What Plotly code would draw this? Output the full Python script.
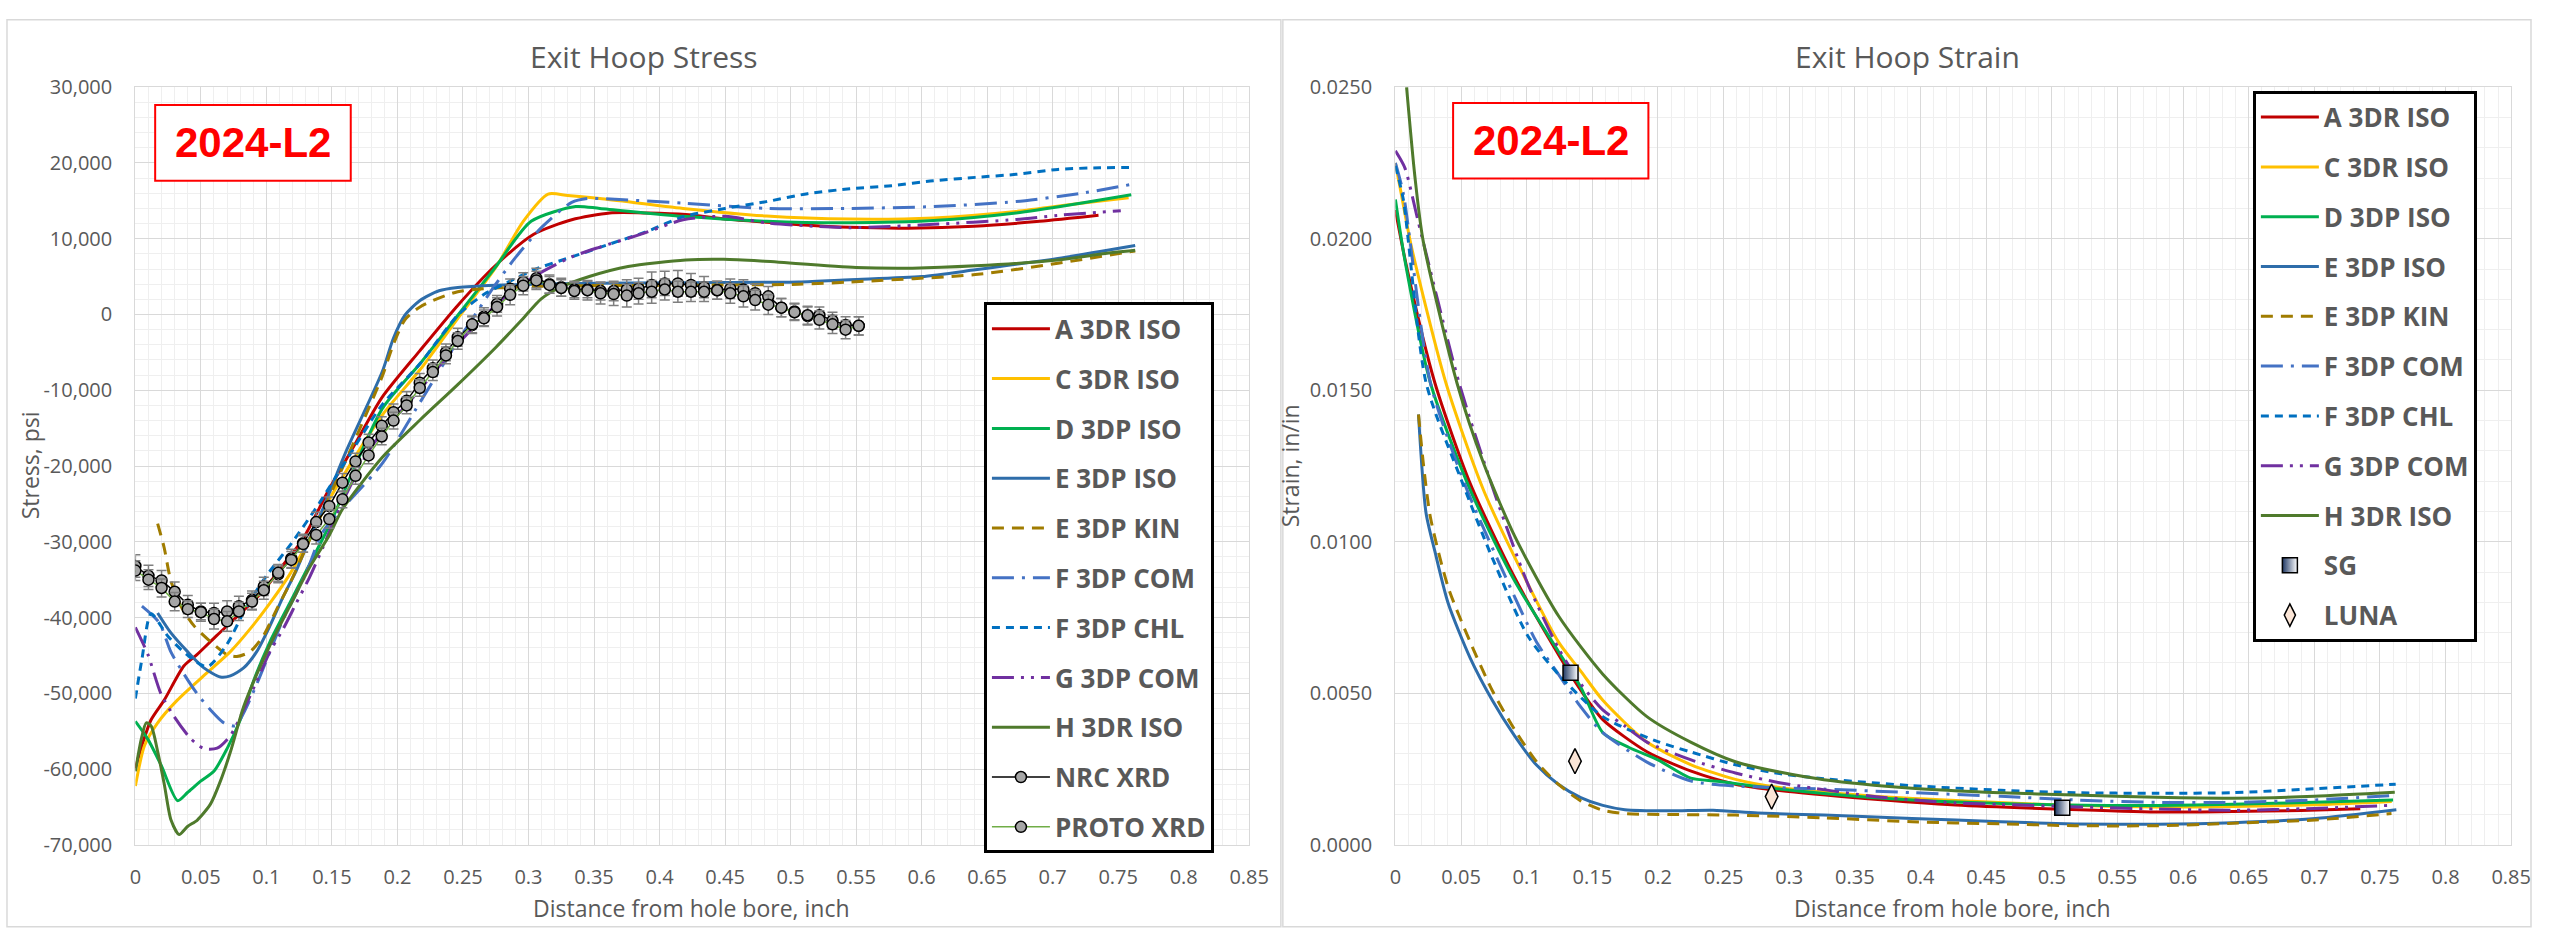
import plotly.graph_objects as go

W, H = 2552, 935

# ---------------- Exit hoop stress (psi) vs distance from bore (inch) ----------------
stress_A_x = [0, 0.005, 0.012, 0.022, 0.037, 0.047, 0.062, 0.083, 0.098, 0.113, 0.128, 0.148, 0.168, 0.188, 0.217, 0.246, 0.275, 0.304, 0.333, 0.362, 0.391, 0.42, 0.45, 0.48, 0.51, 0.545, 0.59, 0.64, 0.69, 0.735]
stress_A_y = [-59900, -56900, -53500, -50900, -46400, -44900, -42400, -39000, -36400, -33000, -29600, -23000, -17000, -11000, -4800, 1200, 6500, 10600, 12500, 13400, 13400, 13200, 12600, 12200, 11800, 11500, 11400, 11650, 12300, 13100]

stress_C_x = [0, 0.007, 0.017, 0.032, 0.052, 0.0725, 0.0876, 0.1027, 0.1178, 0.1329, 0.148, 0.1883, 0.2172, 0.2461, 0.275, 0.296, 0.315, 0.33, 0.3545, 0.418, 0.4817, 0.5453, 0.609, 0.672, 0.72, 0.758]
stress_C_y = [-62250, -56900, -53900, -50900, -47700, -44500, -41500, -38100, -34300, -29600, -24400, -13300, -7300, -500, 6200, 12300, 15900, 15700, 15300, 14000, 13000, 12600, 12750, 13600, 14650, 15400]

stress_D_x = [0, 0.0095, 0.0196, 0.0322, 0.0398, 0.0498, 0.0599, 0.07, 0.0801, 0.0901, 0.1027, 0.1178, 0.1329, 0.148, 0.1883, 0.2172, 0.2461, 0.275, 0.302, 0.336, 0.3545, 0.418, 0.4817, 0.5453, 0.609, 0.672, 0.72, 0.76]
stress_D_y = [-53700, -56050, -59470, -64170, -63100, -61600, -60300, -57300, -53500, -48400, -43200, -38100, -33000, -27850, -12465, -6500, -100, 6300, 12300, 14250, 14000, 12960, 12300, 12100, 12400, 13400, 14650, 15800]

stress_EI_x = [0.017, 0.027, 0.0398, 0.0523, 0.0649, 0.0725, 0.0826, 0.0926, 0.1027, 0.1128, 0.1228, 0.1329, 0.143, 0.16, 0.1883, 0.197, 0.2057, 0.2172, 0.2317, 0.246, 0.275, 0.333, 0.42, 0.506, 0.5453, 0.6, 0.641, 0.704, 0.763]
stress_EI_y = [-39400, -42000, -44500, -46650, -47850, -47700, -46650, -44500, -41100, -37250, -33800, -29600, -25700, -18400, -7600, -3100, -100, 1850, 3130, 3560, 3860, 4100, 4200, 4300, 4600, 5000, 5900, 7400, 9100]

stress_EK_x = [0.017, 0.022, 0.027, 0.0347, 0.0448, 0.0574, 0.07, 0.0775, 0.0876, 0.0977, 0.1077, 0.1178, 0.1279, 0.138, 0.16, 0.1883, 0.197, 0.2057, 0.2172, 0.246, 0.304, 0.42, 0.506, 0.5453, 0.641, 0.704, 0.763]
stress_EK_y = [-27600, -30800, -35100, -38500, -41100, -43200, -44900, -45150, -44500, -42400, -38960, -35540, -31700, -27850, -19500, -8200, -3900, -700, 1000, 3000, 3700, 3860, 3990, 4290, 5270, 6760, 8390]

stress_FM_x = [0.005, 0.0183, 0.027, 0.0372, 0.0473, 0.0574, 0.0675, 0.0763, 0.0826, 0.0926, 0.1027, 0.1128, 0.1228, 0.1329, 0.143, 0.1883, 0.2172, 0.246, 0.275, 0.29, 0.31, 0.333, 0.345, 0.3545, 0.418, 0.4817, 0.5453, 0.609, 0.672, 0.72, 0.761]
stress_FM_y = [-38500, -40700, -44500, -47500, -50100, -52200, -53900, -54300, -52600, -48800, -44500, -40200, -36800, -33000, -28700, -19700, -11600, -3500, 4000, 7500, 11500, 14800, 15300, 15300, 14700, 14000, 14000, 14250, 14900, 15950, 17200]

stress_FC_x = [0, 0.005, 0.012, 0.025, 0.04, 0.055, 0.07, 0.085, 0.1, 0.12, 0.14, 0.16, 0.188, 0.2172, 0.246, 0.2664, 0.2837, 0.304, 0.333, 0.362, 0.391, 0.418, 0.45, 0.4817, 0.513, 0.5453, 0.577, 0.609, 0.641, 0.672, 0.704, 0.736, 0.761]
stress_FC_y = [-50700, -45500, -39500, -42500, -45000, -46500, -43500, -38500, -34500, -30000, -25000, -19500, -12000, -6500, -100, 2700, 4200, 5900, 7600, 9300, 11000, 12900, 14000, 14900, 15950, 16600, 17000, 17650, 18100, 18500, 19150, 19370, 19400]

stress_G_x = [0, 0.0096, 0.0196, 0.0297, 0.0423, 0.0523, 0.0624, 0.0725, 0.0826, 0.0926, 0.1027, 0.1128, 0.1228, 0.1329, 0.143, 0.1531, 0.18, 0.2172, 0.246, 0.275, 0.304, 0.333, 0.3545, 0.386, 0.418, 0.45, 0.4817, 0.5453, 0.609, 0.672, 0.704, 0.752]
stress_G_y = [-41300, -44900, -50100, -53100, -56000, -57300, -57250, -55600, -52200, -48400, -44500, -41500, -38100, -34700, -30800, -26600, -17500, -9900, -3900, 1200, 5000, 7600, 8900, 10600, 12500, 12960, 12100, 11460, 11900, 12530, 13090, 13700]

stress_H_x = [0, 0.0045, 0.0083, 0.0121, 0.0171, 0.0221, 0.0272, 0.0334, 0.0398, 0.0473, 0.0574, 0.0649, 0.0725, 0.0826, 0.0926, 0.1027, 0.1178, 0.1329, 0.148, 0.158, 0.1883, 0.217, 0.246, 0.275, 0.295, 0.3097, 0.324, 0.347, 0.376, 0.42, 0.449, 0.477, 0.55, 0.593, 0.641, 0.704, 0.736, 0.763]
stress_H_y = [-60300, -56050, -53900, -54340, -57760, -62030, -66730, -68650, -67590, -66730, -64600, -61600, -57760, -51780, -47500, -43660, -38530, -33400, -29130, -25710, -18870, -13960, -9260, -4350, -700, 2060, 3560, 5050, 6340, 7190, 7280, 7060, 6210, 6120, 6420, 7190, 7960, 8470]

# X-ray diffraction measurements (two labs), psi, with error bars
xrd_x = [0.000, 0.010, 0.020, 0.030, 0.040, 0.050, 0.060, 0.070, 0.079, 0.089, 0.098, 0.109, 0.119, 0.128, 0.138, 0.148, 0.158, 0.168, 0.178, 0.188, 0.197, 0.207, 0.217, 0.227, 0.237, 0.246, 0.257, 0.266, 0.276, 0.286, 0.296, 0.306, 0.316, 0.325, 0.335, 0.345, 0.355, 0.365, 0.375, 0.384, 0.394, 0.404, 0.414, 0.424, 0.434, 0.444, 0.454, 0.464, 0.473, 0.483, 0.493, 0.503, 0.513, 0.522, 0.532, 0.542, 0.552]
nrc_y = [-33200, -34500, -35100, -36600, -38300, -39200, -39400, -39200, -38500, -37700, -35900, -34300, -32200, -30200, -27400, -25300, -22200, -19400, -16900, -14700, -12900, -11400, -9000, -7100, -5000, -3000, -1400, -300, 1400, 3400, 4300, 4800, 4000, 3600, 3300, 3300, 3100, 3100, 3300, 3400, 3900, 4100, 4100, 3900, 3600, 3200, 3400, 3300, 2800, 2400, 900, 400, -200, -100, -800, -1400, -1500]
proto_y = [-33800, -35000, -36100, -37900, -38900, -39300, -40200, -40500, -39200, -37900, -36400, -34100, -32400, -30300, -29100, -27000, -24400, -21300, -18600, -16100, -14000, -12000, -9700, -7600, -5400, -3500, -1300, -500, 1000, 2600, 3800, 4500, 3900, 3500, 3100, 3200, 2800, 2700, 2500, 2800, 3000, 3300, 3000, 3000, 3000, 3200, 2800, 2400, 1900, 1300, 900, 300, -100, -700, -1300, -2000, -1500]
nrc_err = [1500, 1400, 1300, 1300, 1200, 1100, 1300, 1400, 1300, 1200, 1200, 1100, 1200, 1200, 1300, 1200, 1200, 1100, 1100, 1200, 1100, 1200, 1200, 1100, 1100, 1200, 1100, 1200, 1100, 1300, 1200, 1300, 1200, 1200, 1100, 1100, 1200, 1300, 1300, 1400, 1700, 1600, 1700, 1500, 1400, 1200, 1300, 1300, 1200, 1300, 1200, 1100, 1200, 1100, 1100, 1100, 1200]
proto_err = [1300, 1300, 1200, 1200, 1100, 1200, 1300, 1300, 1200, 1100, 1200, 1100, 1100, 1100, 1200, 1200, 1100, 1100, 1100, 1100, 1100, 1100, 1100, 1100, 1100, 1100, 1100, 1100, 1200, 1300, 1200, 1200, 1100, 1100, 1100, 1300, 1400, 1500, 1500, 1400, 1500, 1400, 1400, 1300, 1300, 1200, 1300, 1400, 1300, 1300, 1200, 1100, 1200, 1200, 1200, 1200, 1200]

stress_ticks = [-70000, -60000, -50000, -40000, -30000, -20000, -10000, 0, 10000, 20000, 30000]
stress_tick_text = ["-70,000", "-60,000", "-50,000", "-40,000", "-30,000", "-20,000", "-10,000", "0", "10,000", "20,000", "30,000"]

# ---------------- Exit hoop strain (in/in) vs distance from bore (inch) ----------------
strain_A_x = [0, 0.0085, 0.0301, 0.057, 0.0907, 0.1243, 0.1412, 0.158, 0.1916, 0.2253, 0.259, 0.2926, 0.36, 0.427, 0.508, 0.58, 0.638, 0.69, 0.735]
strain_A_y = [0.02095, 0.01908, 0.01524, 0.01192, 0.00883, 0.00627, 0.0051, 0.00413, 0.00307, 0.00243, 0.0020, 0.00179, 0.00152, 0.00131, 0.00117, 0.00108, 0.0011, 0.00113, 0.00119]

strain_C_x = [0, 0.0047, 0.0123, 0.0385, 0.0671, 0.1008, 0.1243, 0.1412, 0.158, 0.1916, 0.2253, 0.259, 0.2926, 0.36, 0.427, 0.508, 0.58, 0.638, 0.7, 0.759]
strain_C_y = [0.0225, 0.02143, 0.01972, 0.01524, 0.01171, 0.00862, 0.00669, 0.00573, 0.00477, 0.00339, 0.00264, 0.00216, 0.00189, 0.00162, 0.00146, 0.00131, 0.00125, 0.00126, 0.00132, 0.00143]

strain_D_x = [0, 0.0072, 0.0267, 0.057, 0.0907, 0.1243, 0.1412, 0.158, 0.178, 0.2, 0.225, 0.245, 0.2926, 0.36, 0.427, 0.508, 0.58, 0.638, 0.7, 0.76]
strain_D_y = [0.0213, 0.0193, 0.01524, 0.01171, 0.00872, 0.00637, 0.0052, 0.0037, 0.00321, 0.0028, 0.0022, 0.0021, 0.00184, 0.00157, 0.00141, 0.00131, 0.0013, 0.00134, 0.0014, 0.00148]

strain_EI_x = [0.0176, 0.0233, 0.0301, 0.0402, 0.057, 0.0738, 0.0907, 0.1075, 0.1243, 0.1412, 0.158, 0.1748, 0.2085, 0.242, 0.276, 0.3263, 0.3936, 0.461, 0.5175, 0.58, 0.638, 0.7008, 0.7625]
strain_EI_y = [0.0142, 0.01096, 0.00968, 0.00797, 0.00616, 0.00477, 0.0036, 0.00263, 0.00199, 0.00156, 0.0013, 0.00116, 0.00112, 0.00114, 0.00105, 0.00098, 0.00087, 0.00076, 0.00069, 0.00068, 0.00073, 0.00087, 0.00116]

strain_EK_x = [0.0176, 0.0215, 0.0267, 0.0402, 0.057, 0.0738, 0.0907, 0.1075, 0.1243, 0.1412, 0.158, 0.1748, 0.2085, 0.259, 0.3263, 0.3936, 0.461, 0.5175, 0.58, 0.638, 0.7008, 0.7588]
strain_EK_y = [0.0142, 0.0125, 0.0108, 0.0085, 0.00669, 0.00509, 0.00381, 0.00274, 0.00199, 0.00145, 0.00114, 0.00103, 0.001, 0.00098, 0.00089, 0.00076, 0.00069, 0.00063, 0.00063, 0.00071, 0.00082, 0.00103]

strain_FM_x = [0, 0.006, 0.0267, 0.0536, 0.084, 0.1075, 0.1243, 0.1412, 0.158, 0.1916, 0.2253, 0.259, 0.3263, 0.3936, 0.461, 0.5175, 0.58, 0.638, 0.7, 0.7588]
strain_FM_y = [0.0225, 0.0215, 0.01524, 0.01182, 0.00883, 0.00669, 0.00562, 0.00455, 0.0037, 0.00273, 0.0021, 0.00194, 0.00184, 0.00172, 0.0016, 0.00148, 0.0014, 0.0014, 0.00148, 0.00162]

strain_FC_x = [0, 0.006, 0.0234, 0.0503, 0.0738, 0.1008, 0.1243, 0.158, 0.1984, 0.2253, 0.259, 0.2926, 0.3263, 0.3936, 0.461, 0.5175, 0.58, 0.638, 0.7, 0.762]
strain_FC_y = [0.0224, 0.0213, 0.01524, 0.01203, 0.00947, 0.0069, 0.00562, 0.00423, 0.00343, 0.00306, 0.00264, 0.00235, 0.00218, 0.00195, 0.0018, 0.00172, 0.0017, 0.00172, 0.00185, 0.002]

strain_G_x = [0, 0.0072, 0.0173, 0.0485, 0.0738, 0.1008, 0.1243, 0.1412, 0.158, 0.1748, 0.1916, 0.2253, 0.259, 0.2926, 0.36, 0.427, 0.461, 0.52, 0.58, 0.638, 0.7, 0.757]
strain_G_y = [0.0229, 0.02234, 0.02058, 0.01524, 0.01182, 0.00862, 0.00648, 0.00531, 0.00445, 0.00392, 0.00339, 0.0028, 0.00237, 0.00205, 0.00162, 0.00138, 0.00133, 0.00125, 0.00118, 0.00114, 0.0012, 0.0013]

strain_H_x = [0.0085, 0.0148, 0.0211, 0.0469, 0.0671, 0.0907, 0.1243, 0.158, 0.1916, 0.2253, 0.259, 0.2926, 0.3263, 0.3936, 0.461, 0.5175, 0.58, 0.638, 0.7, 0.7613]
strain_H_y = [0.025, 0.02207, 0.01994, 0.01524, 0.0126, 0.0102, 0.00755, 0.00563, 0.00423, 0.00338, 0.00274, 0.0024, 0.00215, 0.00187, 0.00172, 0.00164, 0.00157, 0.00154, 0.0016, 0.00173]

sg_x = [0.1334, 0.508]
sg_y = [0.00568, 0.00122]
luna_x = [0.1368, 0.2866]
luna_y = [0.00276, 0.00159]

# ---------------- styling ----------------
FONT = "Open Sans"
GREY_TXT = "#595959"
MAJOR = "#d9d9d9"
MINOR = "#efefef"

model_series = [
    ("A 3DR ISO", "#C00000", "solid"),
    ("C 3DR ISO", "#FFC000", "solid"),
    ("D 3DP ISO", "#00B050", "solid"),
    ("E 3DP ISO", "#2E6DAA", "solid"),
    ("E 3DP KIN", "#A07C00", "12px,8px"),
    ("F 3DP COM", "#4472C4", "22px,8px,3px,8px"),
    ("F 3DP CHL", "#0070C0", "8px,6px"),
    ("G 3DP COM", "#7030A0", "22px,7px,3px,7px,3px,7px"),
    ("H 3DR ISO", "#4F7A2C", "solid"),
]
stress_data = [
    (stress_A_x, stress_A_y), (stress_C_x, stress_C_y), (stress_D_x, stress_D_y),
    (stress_EI_x, stress_EI_y), (stress_EK_x, stress_EK_y), (stress_FM_x, stress_FM_y),
    (stress_FC_x, stress_FC_y), (stress_G_x, stress_G_y), (stress_H_x, stress_H_y),
]
strain_data = [
    (strain_A_x, strain_A_y), (strain_C_x, strain_C_y), (strain_D_x, strain_D_y),
    (strain_EI_x, strain_EI_y), (strain_EK_x, strain_EK_y), (strain_FM_x, strain_FM_y),
    (strain_FC_x, strain_FC_y), (strain_G_x, strain_G_y), (strain_H_x, strain_H_y),
]

fig = go.Figure()

for (name, color, dash), (xs, ys) in zip(model_series, stress_data):
    fig.add_trace(go.Scatter(
        x=xs, y=ys, name=name, mode="lines", xaxis="x", yaxis="y",
        line=dict(color=color, width=3, dash=dash, shape="spline", smoothing=0.7),
        legend="legend", legendgroup="L" + name))

for name, ys, err, lc in [("NRC XRD", nrc_y, nrc_err, "#000000"), ("PROTO XRD", proto_y, proto_err, "#70AD47")]:
    fig.add_trace(go.Scatter(
        x=xrd_x, y=ys, name=name, mode="lines+markers", xaxis="x", yaxis="y",
        line=dict(color=lc, width=1.5),
        marker=dict(symbol="circle", size=11, color="#A6A6A6", line=dict(color="#000000", width=1.5)),
        error_y=dict(type="data", array=err, visible=True, color="#7F7F7F", thickness=1.5, width=5),
        legend="legend", legendgroup="L" + name))

for (name, color, dash), (xs, ys) in zip(model_series, strain_data):
    fig.add_trace(go.Scatter(
        x=xs, y=ys, name=name, mode="lines", xaxis="x2", yaxis="y2",
        line=dict(color=color, width=3, dash=dash, shape="spline", smoothing=0.7),
        legend="legend2", legendgroup="R" + name))

fig.add_trace(go.Scatter(
    x=sg_x, y=sg_y, name="SG", mode="markers", xaxis="x2", yaxis="y2",
    marker=dict(symbol="square", size=15, color="#1F3864",
                gradient=dict(type="horizontal", color="#FFFFFF"),
                line=dict(color="#000000", width=1.5)),
    legend="legend2", legendgroup="RSG"))
fig.add_trace(go.Scatter(
    x=luna_x, y=luna_y, name="LUNA", mode="markers", xaxis="x2", yaxis="y2",
    marker=dict(symbol="diamond-tall", size=18, color="#FBE5D6",
                line=dict(color="#000000", width=1.5)),
    legend="legend2", legendgroup="RLUNA"))


def px_x(p):
    return p / W


def px_y(p):
    return 1 - p / H


tick_font = dict(family=FONT, size=20, color=GREY_TXT)
xaxis_common = dict(
    range=[0, 0.85], dtick=0.05, tick0=0, showgrid=True, gridcolor=MAJOR, gridwidth=1.3,
    minor=dict(dtick=0.01, showgrid=True, gridcolor=MINOR, gridwidth=1),
    showline=True, linecolor=MAJOR, linewidth=1.3, mirror=True, zeroline=False,
    ticks="", tickfont=tick_font, ticklabelstandoff=14, fixedrange=True,
)
yaxis_common = dict(
    showgrid=True, gridcolor=MAJOR, gridwidth=1.3,
    showline=True, linecolor=MAJOR, linewidth=1.3, mirror=True, zeroline=False,
    ticks="", tickfont=tick_font, ticklabelstandoff=18, fixedrange=True,
)

legend_common = dict(
    xanchor="left", yanchor="top", bgcolor="#FFFFFF", bordercolor="#000000", borderwidth=3,
    font=dict(family=FONT, size=26, color=GREY_TXT, weight="bold"),
    tracegroupgap=13, itemwidth=58, entrywidth=255, entrywidthmode="pixels",
)

fig.update_layout(
    width=W, height=H, autosize=False,
    margin=dict(l=0, r=0, t=0, b=0),
    paper_bgcolor="#FFFFFF", plot_bgcolor="#FFFFFF",
    font=dict(family=FONT, color=GREY_TXT),
    xaxis=dict(domain=[px_x(130.7), px_x(1256)], anchor="y", **xaxis_common),
    yaxis=dict(domain=[px_y(855.5), px_y(75.4)], anchor="x", range=[-70000, 30000],
               tickvals=stress_ticks, ticktext=stress_tick_text,
               minor=dict(dtick=2000, showgrid=True, gridcolor=MINOR, gridwidth=1),
               **yaxis_common),
    xaxis2=dict(domain=[px_x(1403.7), px_x(2531)], anchor="y2", **xaxis_common),
    yaxis2=dict(domain=[px_y(855.5), px_y(75.4)], anchor="x2", range=[0, 0.025],
                dtick=0.005, tick0=0, tickformat=".4f",
                minor=dict(dtick=0.001, showgrid=True, gridcolor=MINOR, gridwidth=1),
                **yaxis_common),
    legend=dict(x=px_x(988), y=px_y(297), **legend_common),
    legend2=dict(x=px_x(2270), y=px_y(79), **legend_common),
    showlegend=True,
)

# chart frames
fig.add_shape(type="rect", xref="paper", yref="paper", x0=px_x(1), x1=px_x(1288), y0=px_y(940), y1=px_y(6),
              line=dict(color=MAJOR, width=1.5), fillcolor="rgba(0,0,0,0)", layer="below")
fig.add_shape(type="rect", xref="paper", yref="paper", x0=px_x(1290), x1=px_x(2551), y0=px_y(940), y1=px_y(6),
              line=dict(color=MAJOR, width=1.5), fillcolor="rgba(0,0,0,0)", layer="below")

# specimen label boxes
for x0, x1, y0, y1 in [(150.7, 348.3, 93.7, 171.7), (1462, 1659.3, 91.7, 169.3)]:
    fig.add_shape(type="rect", xref="paper", yref="paper", x0=px_x(x0), x1=px_x(x1), y0=px_y(y1), y1=px_y(y0),
                  line=dict(color="#FF0000", width=2), fillcolor="#FFFFFF", layer="above")
    fig.add_annotation(xref="paper", yref="paper", x=px_x((x0 + x1) / 2), y=px_y((y0 + y1) / 2),
                       text="2024-L2", showarrow=False, xanchor="center", yanchor="middle",
                       font=dict(family="Liberation Sans", size=42, color="#FF0000", weight="bold"))

# titles and axis titles
texts = [
    ("Exit Hoop Stress", 645, 44, 30, 0),
    ("Exit Hoop Strain", 1921, 44, 30, 0),
    ("Distance from hole bore, inch", 693, 921, 23, 0),
    ("Distance from hole bore, inch", 1967, 921, 23, 0),
    ("Stress, psi", 24, 465, 23, -90),
    ("Strain, in/in", 1297, 465, 23, -90),
]
for t, cx, cy, size, ang in texts:
    fig.add_annotation(xref="paper", yref="paper", x=px_x(cx), y=px_y(cy), text=t, showarrow=False,
                       xanchor="center", yanchor="middle", textangle=ang,
                       font=dict(family=FONT, size=size, color=GREY_TXT))

fig.write_html("out.html")
